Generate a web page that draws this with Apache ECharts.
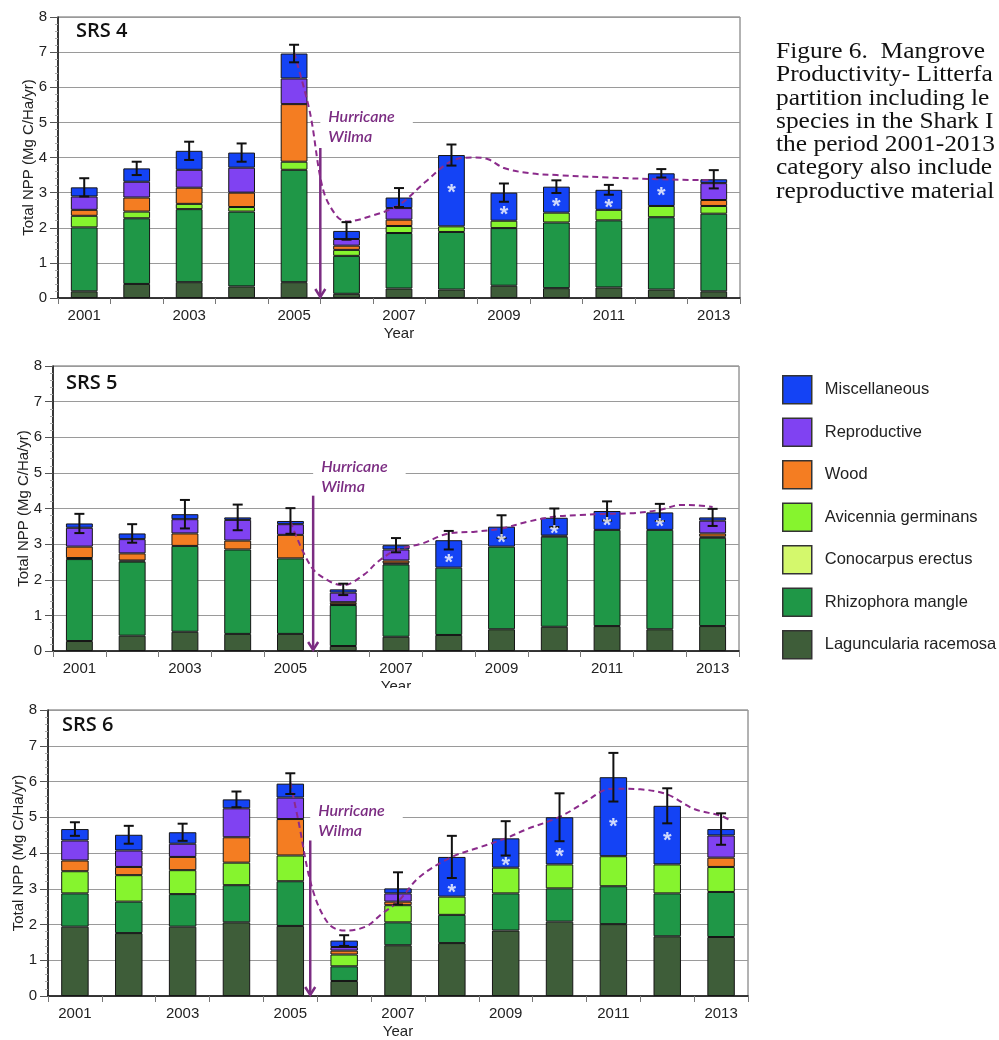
<!DOCTYPE html>
<html><head><meta charset="utf-8">
<script src="https://cdn.jsdelivr.net/npm/echarts@6/dist/echarts.min.js"></script>
<style>html,body{margin:0;padding:0;background:#fff}#c{width:999px;height:1040px}</style>
</head><body><div id="c"></div>
<script>
// ---------- DATA ----------
const years = ['2001','2002','2003','2004','2005','2006','2007','2008','2009','2010','2011','2012','2013'];
const legendOrder = ['Miscellaneous','Reproductive','Wood','Avicennia germinans','Conocarpus erectus','Rhizophora mangle','Laguncularia racemosa'];
const stackOrder = ['Laguncularia racemosa','Rhizophora mangle','Conocarpus erectus','Avicennia germinans','Wood','Reproductive','Miscellaneous'];
const panelTitles = ['SRS 4','SRS 5','SRS 6'];
const starYears = ['2008','2009','2010','2011','2012'];
const hurricaneText = ['Hurricane','Wilma'];
const captionLines = ['Figure 6.  Mangrove','Productivity- Litterfa','partition including le','species in the Shark I','the period 2001-2013','category also include','reproductive material'];

// SRS 4
const lag4   = [0.19,0.40,0.45,0.33,0.45,0.12,0.27,0.24,0.35,0.28,0.30,0.24,0.19];
const rhiz4  = [1.82,1.87,2.08,2.13,3.20,1.08,1.58,1.64,1.64,1.87,1.91,2.06,2.21];
const cono4  = [0,0,0,0,0,0,0,0,0,0,0,0,0];
const avic4  = [0.33,0.19,0.15,0.13,0.23,0.17,0.20,0.16,0.21,0.28,0.30,0.32,0.22];
const wood4  = [0.17,0.40,0.46,0.41,1.64,0.12,0.18,0,0,0,0,0,0.17];
const repro4 = [0.38,0.45,0.51,0.71,0.73,0.19,0.33,0,0,0,0,0,0.48];
const misc4  = [0.26,0.38,0.54,0.43,0.71,0.23,0.30,2.03,0.80,0.74,0.57,0.93,0.11];
const err4   = [0.26,0.19,0.26,0.26,0.25,0.25,0.27,0.30,0.26,0.18,0.14,0.12,0.26];
const star4  = [3.13,2.50,2.74,2.72,3.06];
const trend4 = [[2005,6.98],[2005.3,5.3],[2005.55,3.1],[2005.8,2.35],[2006,2.18],[2006.5,2.35],[2007,2.65],[2007.5,3.3],[2008,3.9],[2008.4,4.0],[2008.7,3.95],[2009,3.7],[2009.5,3.55],[2010,3.5],[2011,3.43],[2012,3.38],[2013,3.35]];

// SRS 5
const lag5   = [0.28,0.43,0.54,0.48,0.48,0.14,0.40,0.45,0.61,0.68,0.70,0.61,0.70];
const rhiz5  = [2.30,2.08,2.41,2.37,2.12,1.15,2.03,1.89,2.32,2.53,2.70,2.79,2.48];
const cono5  = [0,0,0,0,0,0,0,0,0,0,0,0,0];
const avic5  = [0.03,0.03,0,0,0,0.02,0.03,0,0,0.03,0,0,0.03];
const wood5  = [0.32,0.20,0.35,0.25,0.66,0.06,0.08,0,0,0,0,0,0.09];
const repro5 = [0.53,0.40,0.40,0.58,0.30,0.27,0.31,0,0,0,0,0,0.36];
const misc5  = [0.12,0.16,0.14,0.07,0.09,0.09,0.12,0.77,0.56,0.50,0.53,0.49,0.09];
const err5   = [0.27,0.26,0.40,0.36,0.36,0.16,0.20,0.26,0.32,0.26,0.27,0.24,0.24];
const star5  = [2.60,3.16,3.42,3.66,3.61];
const trend5 = [[2005,3.63],[2005.4,2.35],[2005.75,1.95],[2006,1.85],[2006.4,2.15],[2006.65,2.5],[2007,2.83],[2007.5,3.02],[2008,3.3],[2008.5,3.35],[2009,3.44],[2009.5,3.63],[2010,3.77],[2010.5,3.82],[2011,3.85],[2011.5,3.87],[2012,3.96],[2012.4,4.10],[2012.7,4.09],[2013,4.04]];

// SRS 6
const lag6   = [1.94,1.76,1.94,2.06,1.96,0.42,1.42,1.48,1.83,2.08,2.01,1.67,1.65];
const rhiz6  = [0.93,0.88,0.91,1.04,1.25,0.41,0.64,0.79,1.04,0.93,1.06,1.20,1.26];
const cono6  = [0,0,0,0,0,0,0,0,0,0,0,0,0];
const avic6  = [0.62,0.74,0.67,0.63,0.72,0.33,0.48,0.51,0.72,0.67,0.84,0.81,0.70];
const wood6  = [0.30,0.23,0.37,0.71,1.02,0.11,0.10,0,0,0,0,0,0.26];
const repro6 = [0.56,0.46,0.37,0.81,0.60,0.10,0.23,0,0,0,0,0,0.62];
const misc6  = [0.32,0.44,0.32,0.25,0.39,0.18,0.14,1.11,0.82,1.32,2.21,1.64,0.18];
const err6   = [0.19,0.25,0.24,0.22,0.29,0.15,0.45,0.59,0.48,0.67,0.68,0.49,0.44];
const star6  = [3.02,3.77,4.02,4.86,4.49];
const trend6 = [[2005,5.97],[2005.15,4.9],[2005.4,3.05],[2005.7,2.04],[2006,1.83],[2006.4,1.94],[2006.7,2.3],[2007,2.64],[2007.4,3.33],[2008,3.89],[2008.5,4.15],[2009,4.41],[2009.4,4.67],[2010,5.01],[2010.5,5.45],[2010.8,5.74],[2011,5.8],[2011.5,5.78],[2012,5.64],[2012.5,5.23],[2013,5.04],[2013.2,4.88]];

// Hurricane arrow (x in years, top value)
const arrowX   = [2005.5, 2005.43, 2005.37];
const arrowTop = [4.27, 4.36, 4.35];

// ---------- STYLE / LAYOUT ----------
const colorMap = {
  'Miscellaneous':'#1443f5','Reproductive':'#8042f2','Wood':'#f47d22',
  'Avicennia germinans':'#86f42e','Conocarpus erectus':'#d4f86c',
  'Rhizophora mangle':'#1f9747','Laguncularia racemosa':'#3e5d39'
};
const grids = [
  {left:58, top:17, width:682, height:281},
  {left:53, top:366, width:686, height:285},
  {left:48, top:710, width:700, height:288}
];
const titlePos = [{left:76, top:21},{left:66, top:373},{left:62, top:715}];
const labelTopValue = 5.45;

const panels = [
  {series:{'Laguncularia racemosa':lag4,'Rhizophora mangle':rhiz4,'Conocarpus erectus':cono4,'Avicennia germinans':avic4,'Wood':wood4,'Reproductive':repro4,'Miscellaneous':misc4}, err:err4, trend:trend4, star:star4},
  {series:{'Laguncularia racemosa':lag5,'Rhizophora mangle':rhiz5,'Conocarpus erectus':cono5,'Avicennia germinans':avic5,'Wood':wood5,'Reproductive':repro5,'Miscellaneous':misc5}, err:err5, trend:trend5, star:star5},
  {series:{'Laguncularia racemosa':lag6,'Rhizophora mangle':rhiz6,'Conocarpus erectus':cono6,'Avicennia germinans':avic6,'Wood':wood6,'Reproductive':repro6,'Miscellaneous':misc6}, err:err6, trend:trend6, star:star6}
];

const FONT = '"Liberation Sans", Arial, sans-serif';
const xAxis = [], yAxis = [], series = [], title = [];

panels.forEach((p, k) => {
  xAxis.push({
    type:'category', gridIndex:k, data:years, boundaryGap:true,
    axisLine:{lineStyle:{color:'#111', width:1.5}},
    axisTick:{show:true, interval:0, alignWithLabel:false, length:6, lineStyle:{color:'#777'}},
    axisLabel:{interval:1, fontSize:15, color:'#222', fontFamily:FONT, margin:10},
    name:'Year', nameLocation:'middle', nameGap:28, nameMoveOverlap:false,
    nameTextStyle:{fontSize:15, color:'#222', fontFamily:FONT},
    splitLine:{show:false}
  });
  xAxis.push({type:'value', gridIndex:k, min:2000.5, max:2013.5, show:false});
  yAxis.push({
    type:'value', gridIndex:k, min:0, max:8, interval:1,
    axisLine:{show:true, lineStyle:{color:'#111', width:1.5}},
    axisTick:{show:true, length:8, lineStyle:{color:'#555'}},
    minorTick:{show:true, splitNumber:5, length:3, lineStyle:{color:'#aaa'}},
    axisLabel:{fontSize:15, color:'#222', fontFamily:FONT, margin:11},
    splitLine:{lineStyle:{color:'#9a9a9a', width:1}},
    name:'Total NPP (Mg C/Ha/yr)', nameLocation:'middle', nameGap:22, nameRotate:90, nameMoveOverlap:false,
    nameTextStyle:{fontSize:15, color:'#222', fontFamily:FONT}
  });
  title.push({text:panelTitles[k], left:titlePos[k].left, top:titlePos[k].top, padding:0,
    textStyle:{fontFamily:'"Open Sans", sans-serif', fontSize:20, fontWeight:600, color:'#111'}});

  stackOrder.forEach(name => {
    const vals = p.series[name];
    series.push({
      type:'bar', name, stack:'s'+k, xAxisIndex:2*k, yAxisIndex:k, barWidth:'51%', z:2,
      itemStyle:{color:colorMap[name], borderColor:'#151515', borderWidth:1},
      data: vals.map(v => v ? v : '-')
    });
  });

  // totals for error bars
  const totals = years.map((_, i) => stackOrder.reduce((s, n) => s + p.series[n][i], 0));
  series.push({
    type:'custom', name:'err'+k, xAxisIndex:2*k, yAxisIndex:k, z:6,
    data: totals.map((t, i) => [i, t - p.err[i], t + p.err[i]]),
    encode:{x:0, y:[1,2]},
    renderItem:(params, api) => {
      const lo = api.coord([api.value(0), api.value(1)]);
      const hi = api.coord([api.value(0), api.value(2)]);
      const w = 5, st = {stroke:'#111', lineWidth:2};
      return {type:'group', children:[
        {type:'line', shape:{x1:lo[0], y1:lo[1], x2:hi[0], y2:hi[1]}, style:st},
        {type:'line', shape:{x1:lo[0]-w, y1:lo[1], x2:lo[0]+w, y2:lo[1]}, style:st},
        {type:'line', shape:{x1:hi[0]-w, y1:hi[1], x2:hi[0]+w, y2:hi[1]}, style:st}
      ]};
    }
  });

  // significance asterisks (drawn above error bars)
  series.push({
    type:'scatter', name:'star'+k, xAxisIndex:2*k, yAxisIndex:k, z:8,
    symbolSize:0, silent:true,
    data: starYears.map((y, j) => [y, p.star[j]]),
    label:{show:true, position:'inside', formatter:'*', color:'#fff', fontSize:22,
      fontWeight:'bold', fontFamily:FONT, offset:[0,5]}
  });

  // trend line
  series.push({
    type:'line', name:'trend'+k, xAxisIndex:2*k+1, yAxisIndex:k, z:5,
    data:p.trend, smooth:0.35, showSymbol:false, symbol:'none',
    lineStyle:{color:'#8b2b8b', width:2, type:[6,4]}
  });

  // hurricane arrow + label
  series.push({
    type:'custom', name:'arrow'+k, xAxisIndex:2*k+1, yAxisIndex:k, z:4,
    data:[[arrowX[k], arrowTop[k]]],
    renderItem:(params, api) => {
      const top = api.coord([api.value(0), api.value(1)]);
      const bot = api.coord([api.value(0), 0]);
      const lab = api.coord([api.value(0), labelTopValue]);
      const st = {stroke:'#7b2c82', lineWidth:2.5, fill:null};
      return {type:'group', children:[
        {type:'text', x:lab[0], y:lab[1], style:{text:hurricaneText.join('\n'),
          font:'italic 600 16px Lato, sans-serif', fill:'#7b2c82', lineHeight:20,
          backgroundColor:'#fff', padding:[0,18,0,8], align:'left', verticalAlign:'top'}},
        {type:'line', shape:{x1:top[0], y1:top[1], x2:bot[0], y2:bot[1]-1}, style:st},
        {type:'polyline', shape:{points:[[bot[0]-5, bot[1]-9],[bot[0], bot[1]-1],[bot[0]+5, bot[1]-9]]}, style:st}
      ]};
    }
  });
});

const option = {
  backgroundColor:'#fff',
  animation:false,
  title,
  grid: grids.map(g => Object.assign({show:true, borderColor:'#666', borderWidth:1, containLabel:false}, g)),
  xAxis, yAxis, series,
  legend:{
    data:legendOrder, orient:'vertical', left:782, top:375, padding:0,
    itemWidth:29, itemHeight:28, itemGap:13, icon:'rect', selectedMode:false,
    itemStyle:{borderColor:'#333', borderWidth:1.5},
    textStyle:{fontSize:16.5, color:'#222', fontFamily:FONT, padding:[0,0,0,8]}
  },
  graphic:[
    {type:'text', x:776, y:40, scaleX:1.06, style:{text:captionLines.join('\n'),
      font:'24px "Liberation Serif", "Times New Roman", serif', fill:'#111', lineHeight:23.3}},
    {type:'rect', shape:{x:370, y:688, width:60, height:18}, style:{fill:'#fff'}, z:100}
  ]
};

const chart = echarts.init(document.getElementById('c'), null, {renderer:'canvas'});
chart.setOption(option);
</script>
</body></html>
